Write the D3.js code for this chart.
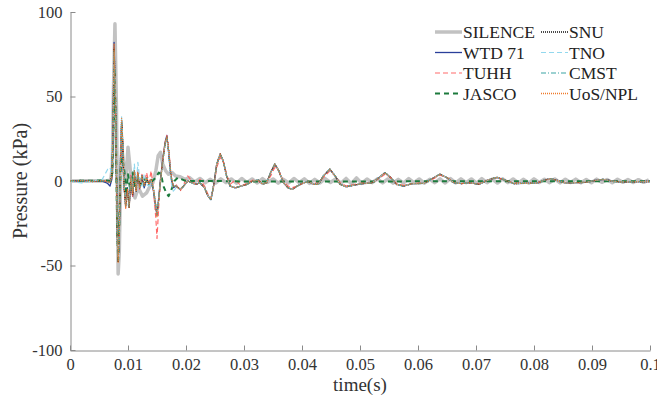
<!DOCTYPE html>
<html>
<head>
<meta charset="utf-8">
<title>Pressure time series</title>
<script src="https://d3js.org/d3.v7.min.js"></script>
<style>
  body { margin: 0; background: #fff; }
  svg { display: block; }
  .axis path, .axis line { stroke: #8a8a8a; }
</style>
</head>
<body>
<div id="chart"></div>
<script>
// ---- data ----
const xTicks = [0, 0.01, 0.02, 0.03, 0.04, 0.05, 0.06, 0.07, 0.08, 0.09, 0.1];
const xTickLabels = ["0", "0.01", "0.02", "0.03", "0.04", "0.05", "0.06", "0.07", "0.08", "0.09", "0.1"];
const yTicks = [-100, -50, 0, 50, 100];
const yTickLabels = ["-100", "-50", "0", "50", "100"];

// shared time grid for the closely matching series
const tMain = [
  0, 0.002, 0.004, 0.0055, 0.0065, 0.0069, 0.0072, 0.0074, 0.0076, 0.0078,
  0.0080, 0.0082, 0.0083, 0.0085, 0.0087, 0.0089, 0.0091, 0.0093, 0.0096, 0.0099,
  0.0102, 0.0105, 0.0108, 0.0111, 0.0114, 0.0117, 0.0120, 0.0124, 0.0128, 0.0132,
  0.0136, 0.0140, 0.0144, 0.0148, 0.0150, 0.0153, 0.0156, 0.0160, 0.0164, 0.0167,
  0.0170, 0.0174, 0.0178, 0.0183, 0.0190, 0.0196, 0.0203, 0.0210, 0.0217, 0.0224,
  0.0232, 0.0238, 0.0243, 0.0248, 0.0253, 0.0259, 0.0264, 0.0270, 0.0276, 0.0285,
  0.0295, 0.0305, 0.0315, 0.0325, 0.0332, 0.0339, 0.0346, 0.0353, 0.0360, 0.0368,
  0.0376, 0.0383, 0.0392, 0.0403, 0.0412, 0.0420, 0.0428, 0.0437, 0.0448, 0.0457,
  0.0466, 0.0476, 0.0490, 0.0505, 0.0520, 0.0533, 0.0543, 0.0553, 0.0563, 0.0575,
  0.0590, 0.0610, 0.0625, 0.0638, 0.0650, 0.0662, 0.0675, 0.0690, 0.0705, 0.0720,
  0.0736, 0.0750, 0.0765, 0.0785, 0.0805, 0.0818, 0.0828, 0.0840, 0.0855, 0.0870,
  0.0890, 0.0905, 0.0919, 0.0935, 0.0950, 0.0970, 0.0990, 0.1000
];

// tail (t >= 0.0295) where most series overlap
const tailCommon = [
  -3, -2, 0, 0.5, -2, -1, 5, 10, 6, -1,
  -4, -5, -3, -1, -0.5, -2, -2, 3, 7, 3,
  -2, -3.4, -2.4, -1.5, -1.2, 2, 4.9, 2, -2, -3,
  -1.6, -1.4, 1.5, 4, 2, -1, -1.5, -1, -2, 0.5,
  2.2, 0.5, -1.5, -1.4, -1.2, 0.5, 1.4, 0.3, -1.3, -1,
  -0.8, 0.3, 1.0, 0, -0.6, -0.5, -0.3, -0.3
];

const wtdP = [
  0, 0.2, -0.2, 0.1, -1.5, -3, 1, 22, 82, 52,
  4, -36, -47, -28, 12, 35, 20, -3, -14, -4,
  -15, 3, -9, 5, -5, 4, -3, 2, -4, 1,
  -1, 0, -6, -16, -20, -10, 1, 13, 23, 27,
  17, 2, -4, -3, -5, -3, 0, -1, -2, -1,
  -4, -9, -11, -2, 10, 16, 12, 3, -3, -4
].concat(tailCommon);

const tuhhP = [
  0, 0.2, 0, 0.3, 0, 0.5, 2, 20, 72, 60,
  8, -35, -46, -32, 8, 34, 25, 0, -16, -6,
  -15, 4, -9, 5, -4, 7, -5, 4, -2, 5,
  -1, 6, -6, -22, -34, -15, 0, 14, 22, 27,
  20, 4, -3, -2, -6, -2, 3, 0, -2, 1,
  -3, -8, -10, -3, 8, 14, 12, 4, -2, 0.6,
  -3, -1.5, 0.5, 0, -1.5, -1, 3, 8, 6, 0,
  -3, -4, -3, -1, 0, -1.5, -1, 2, 6, 3,
  -1, -3, -2, -1, -1, 1.5, 4, 2, -1.5, -2.5,
  -1.5, -1, 1, 3.5, 2, -0.5, -1.5, -1, -1.5, 0.5,
  2, 0.5, -1.2, -1.2, -1, 0.5, 1.2, 0.3, -1, -1,
  -0.7, 0.3, 0.9, 0, -0.5, -0.5, -0.3, -0.3
];

const snuP = [
  0, 0.3, -0.3, 0.2, -0.5, -1, 3, 25, 78, 55,
  5, -38, -48, -30, 10, 36, 22, -2, -15, -5,
  -16, 2, -8, 6, -6, 5, -4, 3, -3, 2,
  -2, 1, -5, -15, -20, -11, 0, 12, 22, 26,
  18, 3, -3, -3, -5, -3, 0, -1, -2, -1,
  -4, -9, -11, -2, 10, 16, 12, 3, -3, -4
].concat(tailCommon);

const tnoP = [
  0, -1.2, 0.3, 0.5, 7, 8, 4, 24, 76, 58,
  6, -36, -46, -30, 12, 38, 24, -2, -14, -15,
  -12, 3, -6, 10, -4, 11, 2, -3, 4, -2,
  -3, 0, -5, -15, -19, -11, 0, 12, 22, 25,
  17, 0, -6, -4, -5, -3, 0, -1, -2, -1,
  -4, -9, -11, -2, 10, 16, 12, 3, -3, -4
].concat(tailCommon);

const cmstP = [
  0, 0.2, -0.2, 0.2, -0.3, -0.5, 2, 24, 77, 56,
  6, -37, -47, -31, 9, 35, 23, -1, -15, -6,
  -15, 2, -7, 6, -5, 5, -4, 3, -3, 2,
  -2, 1, -5, -15, -20, -11, 0, 12, 22, 26,
  18, 3, -3, -3, -5, -3, 0, -1, -2, -1,
  -4, -9, -11, -2, 10, 16, 12, 3, -3, -4
].concat(tailCommon);

const uosP = [
  0, 0.2, -0.2, 0.2, -0.4, -0.8, 2, 24, 81, 54,
  5, -38, -48, -30, 11, 37, 22, -2, -16, -5,
  -16, 2, -8, 6, -6, 5, -4, 3, -3, 2,
  -2, 1, -5, -15, -21, -11, 0, 12, 23, 26,
  18, 3, -3, -3, -5, -3, 0, -1, -2, -1,
  -4, -9, -11, -2, 10, 16, 12, 3, -3, -4
].concat(tailCommon);

const silence = [
  [0, 0], [0.003, 0.2], [0.006, 0], [0.0070, 0.5], [0.0073, 8], [0.0075, 55], [0.00775, 93],
  [0.0080, 45], [0.0082, -15], [0.0083, -55], [0.0085, -42], [0.0087, -5], [0.0089, 20],
  [0.0092, 12], [0.0096, -2], [0.0100, 20], [0.0103, 10], [0.0107, -6], [0.0112, -10],
  [0.0118, -4], [0.0125, -9], [0.0132, -7], [0.0138, -3], [0.0143, -1], [0.0148, 6],
  [0.0152, 15], [0.0156, 17], [0.0160, 10], [0.0165, 6], [0.0170, 4], [0.0176, 5],
  [0.0182, 3], [0.0190, 2.5], [0.0198, 1], [0.0206, 2],
  [0.0215, -0.5], [0.0224, 1.5], [0.0233, -1], [0.0242, 1], [0.0251, -1.2], [0.0260, 1.3],
  [0.0269, -1], [0.0278, 1.2], [0.0287, -1.3], [0.0296, 1.5], [0.0305, -1], [0.0314, 1.2],
  [0.0323, -1.2], [0.0332, 1.4], [0.0341, -0.8], [0.0350, 1.2], [0.0359, -1.3], [0.0368, 1],
  [0.0377, -1.2], [0.0386, 1.5], [0.0395, -1], [0.0404, 1.3], [0.0413, -1.4], [0.0422, 1],
  [0.0431, -1.2], [0.0440, 1.4], [0.0449, -0.9], [0.0458, 1.2], [0.0467, -1.3], [0.0476, 1.5],
  [0.0485, -1.6], [0.0494, 1.8], [0.0503, -1.4], [0.0512, 1.2], [0.0521, -1], [0.0530, 1.3],
  [0.0539, -1.1], [0.0548, 1.2], [0.0557, -1.3], [0.0566, 1], [0.0575, -1.2], [0.0584, 1.4],
  [0.0593, -1], [0.0602, 1.2], [0.0611, -1.3], [0.0620, 1], [0.0629, -1], [0.0638, 1.3],
  [0.0647, -1.2], [0.0656, 1.5], [0.0665, -1.1], [0.0674, 1.3], [0.0683, -1], [0.0692, 1.2],
  [0.0701, -1.3], [0.0710, 1.4], [0.0719, -1], [0.0728, 1.1], [0.0737, -1.2], [0.0746, 1.3],
  [0.0755, -1], [0.0764, 1.2], [0.0773, -1.1], [0.0782, 1], [0.0791, -1.2], [0.0800, 1.3],
  [0.0809, -0.9], [0.0818, 1], [0.0827, -1], [0.0836, 1.2], [0.0845, -1.1], [0.0854, 1],
  [0.0863, -0.9], [0.0872, 1.1], [0.0881, -1], [0.0890, 0.9], [0.0899, -1], [0.0908, 1.1],
  [0.0917, -0.8], [0.0926, 0.9], [0.0935, -1], [0.0944, 1], [0.0953, -0.8], [0.0962, 0.9],
  [0.0971, -0.9], [0.0980, 0.8], [0.0989, -0.8], [0.0998, 0.7]
];

const jasco = [
  [0, 0], [0.006, 0.3], [0.0070, 0], [0.0073, 5], [0.0075, 35], [0.0077, 66], [0.0079, 30],
  [0.0081, -20], [0.0083, -47], [0.0085, -25], [0.0087, 5], [0.0089, 14], [0.0091, 12],
  [0.0094, 5], [0.0097, -8], [0.0100, 4], [0.0104, -6], [0.0108, 5], [0.0112, -3],
  [0.0117, 2], [0.0122, -2], [0.0128, 1], [0.0135, -1], [0.0142, 0], [0.0148, 2],
  [0.0153, 5], [0.0157, 4], [0.0161, -3], [0.0166, -7], [0.0170, -9], [0.0175, -5],
  [0.0180, 0], [0.0186, 2], [0.0193, 1], [0.0200, 0], [0.0250, 0], [0.0300, -0.3],
  [0.0400, -0.3], [0.0500, -0.3], [0.0600, -0.2], [0.0700, -0.2], [0.0800, -0.2],
  [0.0900, -0.2], [0.1000, -0.2]
];

const zipT = p => tMain.map((t, i) => [t, p[i]]);

const series = [
  { name: "SILENCE", values: silence },
  { name: "WTD 71", values: zipT(wtdP) },
  { name: "TUHH", values: zipT(tuhhP) },
  { name: "JASCO", values: jasco },
  { name: "SNU", values: zipT(snuP) },
  { name: "TNO", values: zipT(tnoP) },
  { name: "CMST", values: zipT(cmstP) },
  { name: "UoS/NPL", values: zipT(uosP) }
];

// line styles
const styles = {
  "SILENCE": { color: "#c2c2c2", width: 3.5, dash: null },
  "WTD 71": { color: "#2a3f9a", width: 1.3, dash: null },
  "TUHH": { color: "#ff6a6a", width: 1.2, dash: "5,3" },
  "JASCO": { color: "#1c7a3c", width: 2, dash: "5,4" },
  "SNU": { color: "#111111", width: 1.3, dash: "1,1" },
  "TNO": { color: "#92d8ee", width: 1.2, dash: "5,3" },
  "CMST": { color: "#3aa3a3", width: 1.2, dash: "5,2,1,2" },
  "UoS/NPL": { color: "#f07a2a", width: 1.3, dash: "1,1" }
};

const serifFont = "'Liberation Serif'";

// ---- chart ----
const width = 657;
const height = 403;

const svg = d3.select("#chart")
  .append("svg")
  .attr("width", width)
  .attr("height", height);

const x = d3.scaleLinear().domain([0, 0.1]).range([70, 650]);
const y = d3.scaleLinear().domain([-100, 100]).range([350, 12]);

// axes
svg.append("g")
  .attr("class", "axis")
  .attr("transform", "translate(0,350.5)")
  .call(d3.axisBottom(x).tickValues(xTicks)
    .tickFormat((d, i) => xTickLabels[i])
    .tickSize(-5).tickSizeOuter(0).tickPadding(8));

svg.append("g")
  .attr("class", "axis")
  .attr("transform", "translate(70.5,0)")
  .call(d3.axisLeft(y).tickValues(yTicks)
    .tickFormat((d, i) => yTickLabels[i])
    .tickSize(-5).tickSizeOuter(0).tickPadding(8));

svg.selectAll(".axis text")
  .style("font-family", serifFont)
  .style("font-size", "16.5px")
  .style("fill", "#333");

// lines
const line = d3.line()
  .x(d => x(d[0]))
  .y(d => y(d[1]));

svg.append("g")
  .selectAll("path")
  .data(series)
  .join("path")
  .attr("d", d => line(d.values))
  .attr("fill", "none")
  .attr("stroke", d => styles[d.name].color)
  .attr("stroke-width", d => styles[d.name].width)
  .attr("stroke-dasharray", d => styles[d.name].dash)
  .attr("stroke-linejoin", "round");

// axis labels
svg.append("text")
  .attr("x", 360)
  .attr("y", 391)
  .attr("text-anchor", "middle")
  .style("font-family", serifFont)
  .style("font-size", "19px")
  .style("fill", "#333")
  .text("time(s)");

svg.append("text")
  .attr("transform", "translate(27,181) rotate(-90)")
  .attr("text-anchor", "middle")
  .style("font-family", serifFont)
  .style("font-size", "20px")
  .style("fill", "#333")
  .text("Pressure (kPa)");

// legend (two columns, filled by column)
const legend = svg.append("g").attr("class", "legend");
series.forEach((s, i) => {
  const col = Math.floor(i / 4);
  const row = i % 4;
  const lx = col === 0 ? 435 : 541;
  const ly = 32 + row * 20.5;
  const st = styles[s.name];
  legend.append("line")
    .attr("x1", lx).attr("x2", lx + 27)
    .attr("y1", ly).attr("y2", ly)
    .attr("stroke", st.color)
    .attr("stroke-width", st.width)
    .attr("stroke-dasharray", st.dash);
  legend.append("text")
    .attr("x", lx + 28)
    .attr("y", ly + 6)
    .style("font-family", serifFont)
    .style("font-size", "17.5px")
    .style("fill", "#222")
    .text(s.name);
});
</script>
</body>
</html>
